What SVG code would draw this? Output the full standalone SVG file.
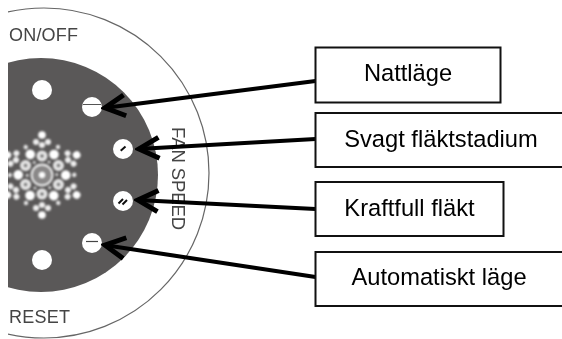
<svg xmlns="http://www.w3.org/2000/svg" xmlns:xlink="http://www.w3.org/1999/xlink" width="562" height="339" viewBox="0 0 562 339">
<style>
.box{fill:#fff;stroke:#111;stroke-width:2}
.lbl{font-family:"Liberation Sans",Arial,sans-serif;font-size:23.700px;fill:#000;text-anchor:middle}
.prn{font-family:"Liberation Sans",Arial,sans-serif;fill:#444}
.hole{fill:#fff}
.conn{fill:none;stroke:#000;stroke-width:4.200;marker-start:url(#head)}
.dot{fill:#fff}
</style>
<defs>
<clipPath id="cut"><rect x="8" y="0" width="554" height="339"/></clipPath>
<filter id="soft" x="-10%" y="-10%" width="120%" height="120%"><feGaussianBlur stdDeviation="0.5"/></filter>
<filter id="softer" x="-10%" y="-10%" width="120%" height="120%"><feGaussianBlur stdDeviation="0.8"/></filter>
<marker id="head" markerUnits="userSpaceOnUse" markerWidth="30" markerHeight="30" viewBox="-3 -15 30 30" refX="0" refY="0" orient="auto"><path d="M21 -10.500L1 0L21 10.500" fill="none" stroke="#000" stroke-width="5"/></marker>
<g id="sector">
<circle class="dot" cx="0" cy="-19" r="5.500" fill-opacity=".85"/><circle cx="0" cy="-19" r="2" fill="#777"/>
<circle class="dot" cx="12" cy="-20.500" r="4.800"/>
<circle class="dot" cx="0" cy="-30" r="3" fill-opacity=".9"/>
<circle class="dot" cx="-6" cy="-33" r="3" fill-opacity=".9"/>
<circle class="dot" cx="6" cy="-33" r="3" fill-opacity=".9"/>
<circle class="dot" cx="0" cy="-40" r="3.800"/>
<circle class="dot" cx="16" cy="-28" r="2.200" fill-opacity=".85"/>
<circle class="dot" cx="7" cy="-13" r="1.600" fill-opacity=".7"/>
</g>
</defs>
<rect width="562" height="339" fill="#fff"/>
<g id="dial" clip-path="url(#cut)">
<circle cx="44" cy="173" r="165" fill="none" stroke="#666" stroke-width="1.200"/>
<circle cx="41" cy="175" r="117" fill="#5a5858"/>
</g>
<g id="snowflake" clip-path="url(#cut)" filter="url(#softer)">
<use xlink:href="#sector" href="#sector" transform="translate(42 175)"/>
<use xlink:href="#sector" href="#sector" transform="translate(42 175) rotate(60)"/>
<use xlink:href="#sector" href="#sector" transform="translate(42 175) rotate(120)"/>
<use xlink:href="#sector" href="#sector" transform="translate(42 175) rotate(180)"/>
<use xlink:href="#sector" href="#sector" transform="translate(42 175) rotate(240)"/>
<use xlink:href="#sector" href="#sector" transform="translate(42 175) rotate(300)"/>
<circle cx="42" cy="175" r="10.500" fill="#8a8888" stroke="#eee" stroke-width="1.800"/>
<circle cx="42" cy="175" r="3" fill="#fff"/>
</g>
<g id="btn-power" filter="url(#soft)"><circle class="hole" cx="42" cy="90" r="10"/></g>
<g id="btn-reset" filter="url(#soft)"><circle class="hole" cx="42" cy="260" r="10"/></g>
<g id="btn-night" filter="url(#soft)"><circle class="hole" cx="92" cy="107" r="10"/><path d="M83 104.500H101" stroke="#555" stroke-width="1"/></g>
<g id="btn-low" filter="url(#soft)"><circle class="hole" cx="123" cy="149" r="10"/><path d="M120.700 150.700L125.500 146.500" stroke="#111" stroke-width="2"/></g>
<g id="btn-high" filter="url(#soft)"><circle class="hole" cx="123" cy="201" r="10"/><path d="M118.500 203.500L123 199M122.500 204.500L127 200" stroke="#111" stroke-width="2"/></g>
<g id="btn-auto" filter="url(#soft)"><circle class="hole" cx="92" cy="243" r="10"/><path d="M86 241.500H98" stroke="#444" stroke-width="1.200"/></g>
<g id="print" filter="url(#soft)">
<text class="prn" x="9" y="40.500" font-size="18" textLength="69">ON/OFF</text>
<text class="prn" x="9" y="323" font-size="18" textLength="61">RESET</text>
<text class="prn" transform="translate(172 127) rotate(90)" font-size="18.500" textLength="103">FAN SPEED</text>
</g>
<g id="connectors">
<path class="conn" d="M104 108L315.500 81"/>
<path class="conn" d="M138 149L315.500 139"/>
<path class="conn" d="M137 200L315.500 209"/>
<path class="conn" d="M104 245L315.500 277"/>
</g>
<g id="node-nattlage"><rect class="box" x="315.500" y="47.500" width="185" height="55"/><text class="lbl" x="408" y="81">Nattläge</text></g>
<g id="node-svagt"><rect class="box" x="315.500" y="113" width="250" height="54"/><text class="lbl" x="441" y="146.500">Svagt fläktstadium</text></g>
<g id="node-kraftfull"><rect class="box" x="315.500" y="182" width="188" height="54"/><text class="lbl" x="409.500" y="215.500">Kraftfull fläkt</text></g>
<g id="node-auto"><rect class="box" x="315.500" y="252" width="250" height="54"/><text class="lbl" x="439" y="285">Automatiskt läge</text></g>
</svg>
